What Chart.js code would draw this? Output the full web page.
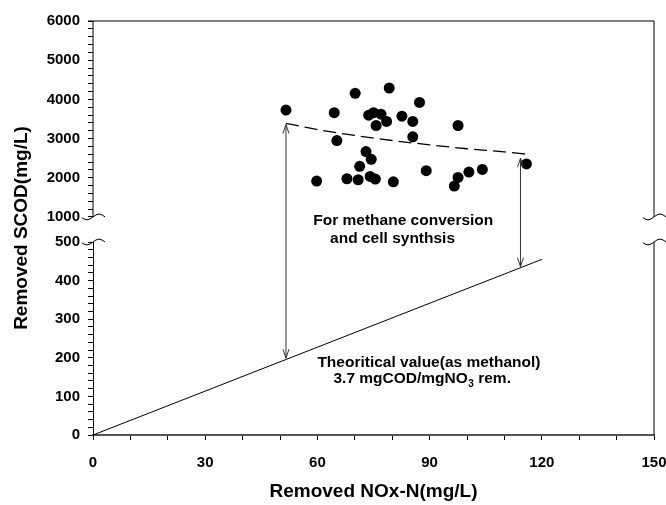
<!DOCTYPE html>
<html>
<head>
<meta charset="utf-8">
<script src="https://cdn.jsdelivr.net/npm/chart.js@4"></script>
<style>
  html, body { margin: 0; padding: 0; background: #fff; }
</style>
</head>
<body>
<canvas id="c" width="666" height="505"></canvas>
<script>
// measured points (upper y scale)
const nitrateRemoved = [51.6, 70.1, 79.2, 87.3, 64.5, 73.7, 75.0, 77.0, 78.5, 75.7,
  82.6, 85.5, 97.6, 85.5, 65.2, 73.0, 74.4, 71.3, 59.8, 67.9,
  70.9, 74.1, 75.5, 80.3, 89.1, 97.6, 96.6, 100.5, 104.1, 115.9];
const scodRemoved = [3726, 4154, 4290, 3923, 3659, 3597, 3659, 3623, 3436, 3333,
  3572, 3436, 3333, 3043, 2949, 2667, 2470, 2290, 1915, 1974,
  1949, 2034, 1966, 1897, 2179, 2008, 1787, 2146, 2213, 2351];

// dashed trend curve (upper scale)
const trendX = [51.6, 60, 70, 80, 90, 100, 110, 116];
const trendY = [3390, 3230, 3080, 2950, 2840, 2740, 2660, 2600];

// theoretical line (lower scale)
const theoryX = [0, 120];
const theoryY = [0, 455];

// double arrows: top on upper scale, bottom on lower scale
const arrowX = [51.6, 114.3];
const arrowTop = [3360, 2500];
const arrowBottom = [199, 436];

const xTicks = [0, 30, 60, 90, 120, 150];
const yLowTicks = [0, 100, 200, 300, 400, 500];
const yHighTicks = [1000, 2000, 3000, 4000, 5000, 6000];

const FONT = '"Liberation Sans", Arial, sans-serif';

function stepTicks(from, to, step) {
  const out = [];
  for (let v = from; v <= to + 1e-9; v += step) out.push({ value: v });
  return out;
}

function tilde(ctx, cx, cy) {
  ctx.beginPath();
  for (let t = -11; t <= 12; t++) {
    const px = cx + t, py = cy - 2.8 * Math.sin(Math.PI * t / 12);
    if (t === -11) ctx.moveTo(px, py); else ctx.lineTo(px, py);
  }
  ctx.stroke();
}

function arrow(ctx, x, y1, y2) {
  ctx.beginPath();
  ctx.moveTo(x, y1); ctx.lineTo(x, y2);
  ctx.moveTo(x - 3, y1 + 9); ctx.lineTo(x, y1); ctx.lineTo(x + 3, y1 + 9);
  ctx.moveTo(x - 3, y2 - 9); ctx.lineTo(x, y2); ctx.lineTo(x + 3, y2 - 9);
  ctx.stroke();
}

const decor = {
  id: 'decor',
  afterDatasetsDraw(chart) {
    const { ctx, chartArea: a, scales } = chart;
    const x = scales.x, hi = scales.yHigh, lo = scales.yLow;
    ctx.save();
    ctx.strokeStyle = '#000';
    ctx.lineWidth = 1;

    // frame pieces
    const y1000 = hi.getPixelForValue(1000), y500 = lo.getPixelForValue(500);
    ctx.beginPath();
    ctx.moveTo(a.left - 5, a.top); ctx.lineTo(a.right, a.top);
    ctx.moveTo(a.left, a.top); ctx.lineTo(a.left, y1000);
    ctx.moveTo(a.right, a.top); ctx.lineTo(a.right, y1000);
    ctx.moveTo(a.right, y500); ctx.lineTo(a.right, a.bottom);
    ctx.stroke();
    tilde(ctx, a.left, y1000);
    tilde(ctx, a.left, y500);
    tilde(ctx, a.right, y1000);
    tilde(ctx, a.right, y500);

    // arrows
    ctx.strokeStyle = '#333';
    arrowX.forEach((v, i) => {
      arrow(ctx, x.getPixelForValue(v), hi.getPixelForValue(arrowTop[i]), lo.getPixelForValue(arrowBottom[i]));
    });

    // notes
    ctx.fillStyle = '#000';
    ctx.font = 'bold 15.5px ' + FONT;
    ctx.textBaseline = 'middle';
    ctx.textAlign = 'left';
    ctx.fillText('For methane conversion', x.getPixelForValue(58.9), hi.getPixelForValue(905));
    ctx.fillText('and cell synthsis', x.getPixelForValue(63.4), hi.getPixelForValue(436));
    ctx.fillText('Theoritical value(as methanol)', x.getPixelForValue(60.0), lo.getPixelForValue(186.5));
    let tx = x.getPixelForValue(64.3);
    const ty = lo.getPixelForValue(145);
    const part1 = '3.7 mgCOD/mgNO';
    ctx.fillText(part1, tx, ty);
    tx += ctx.measureText(part1).width;
    ctx.font = 'bold 10px ' + FONT;
    ctx.fillText('3', tx + 0.5, ty + 5);
    tx += ctx.measureText('3').width + 0.5;
    ctx.font = 'bold 15.5px ' + FONT;
    ctx.fillText(' rem.', tx, ty);

    // y axis title
    ctx.translate(22, (a.top + a.bottom) / 2);
    ctx.rotate(-Math.PI / 2);
    ctx.textAlign = 'center';
    ctx.font = 'bold 19px ' + FONT;
    ctx.fillText('Removed SCOD(mg/L)', 0, 0);
    ctx.restore();
  }
};

const tickFont = { family: FONT, size: 15, weight: 'bold' };

new Chart(document.getElementById('c'), {
  type: 'scatter',
  data: {
    datasets: [
      {
        data: nitrateRemoved.map((v, i) => ({ x: v, y: scodRemoved[i] })),
        yAxisID: 'yHigh',
        pointRadius: 5.5,
        pointBackgroundColor: '#000',
        pointBorderWidth: 0
      },
      {
        data: trendX.map((v, i) => ({ x: v, y: trendY[i] })),
        yAxisID: 'yHigh',
        showLine: true,
        pointRadius: 0,
        borderColor: '#000',
        borderWidth: 1.3,
        borderDash: [13, 6],
        cubicInterpolationMode: 'monotone'
      },
      {
        data: theoryX.map((v, i) => ({ x: v, y: theoryY[i] })),
        yAxisID: 'yLow',
        showLine: true,
        pointRadius: 0,
        borderColor: '#000',
        borderWidth: 1
      }
    ]
  },
  options: {
    responsive: false,
    animation: false,
    devicePixelRatio: 1,
    layout: { padding: { left: 40, right: 12, top: 21, bottom: 0 } },
    plugins: {
      legend: { display: false },
      tooltip: { enabled: false }
    },
    scales: {
      x: {
        type: 'linear',
        position: 'bottom',
        min: 0,
        max: 150,
        afterBuildTicks: s => { s.ticks = stepTicks(0, 150, 10); },
        afterFit: s => { s.height = 70; s.paddingLeft = 0; s.paddingRight = 0; },
        ticks: {
          autoSkip: false,
          maxRotation: 0,
          padding: 14,
          color: '#000',
          font: tickFont,
          callback: v => xTicks.includes(v) ? String(v) : ''
        },
        grid: { drawOnChartArea: false, tickLength: 5, color: '#000' },
        border: { color: '#555', width: 2 },
        title: {
          display: true,
          text: 'Removed NOx-N(mg/L)',
          color: '#000',
          font: { family: FONT, size: 19, weight: 'bold' },
          padding: { top: 0, bottom: 2 }
        }
      },
      yLow: {
        type: 'linear',
        position: 'left',
        stack: 'v',
        stackWeight: 193,
        min: 0,
        max: 500,
        afterBuildTicks: s => { s.ticks = stepTicks(0, 500, 20); },
        afterFit: s => { s.width = 53; s.paddingTop = 0; s.paddingBottom = 0; },
        ticks: {
          autoSkip: false,
          padding: 8,
          color: '#000',
          font: tickFont,
          callback: v => yLowTicks.includes(v) ? String(v) : ''
        },
        grid: { drawOnChartArea: false, tickLength: 5, color: '#000' },
        border: { color: '#000', width: 1 }
      },
      yHigh: {
        type: 'linear',
        position: 'left',
        stack: 'v',
        stackWeight: 221,
        min: 360,
        max: 6000,
        afterBuildTicks: s => { s.ticks = stepTicks(1000, 6000, 200); },
        afterFit: s => { s.width = 53; s.paddingTop = 0; s.paddingBottom = 0; },
        ticks: {
          autoSkip: false,
          padding: 8,
          color: '#000',
          font: tickFont,
          callback: v => yHighTicks.includes(v) ? String(v) : ''
        },
        grid: { drawOnChartArea: false, tickLength: 5, color: '#000' },
        border: { display: false }
      }
    }
  },
  plugins: [decor]
});
</script>
</body>
</html>
